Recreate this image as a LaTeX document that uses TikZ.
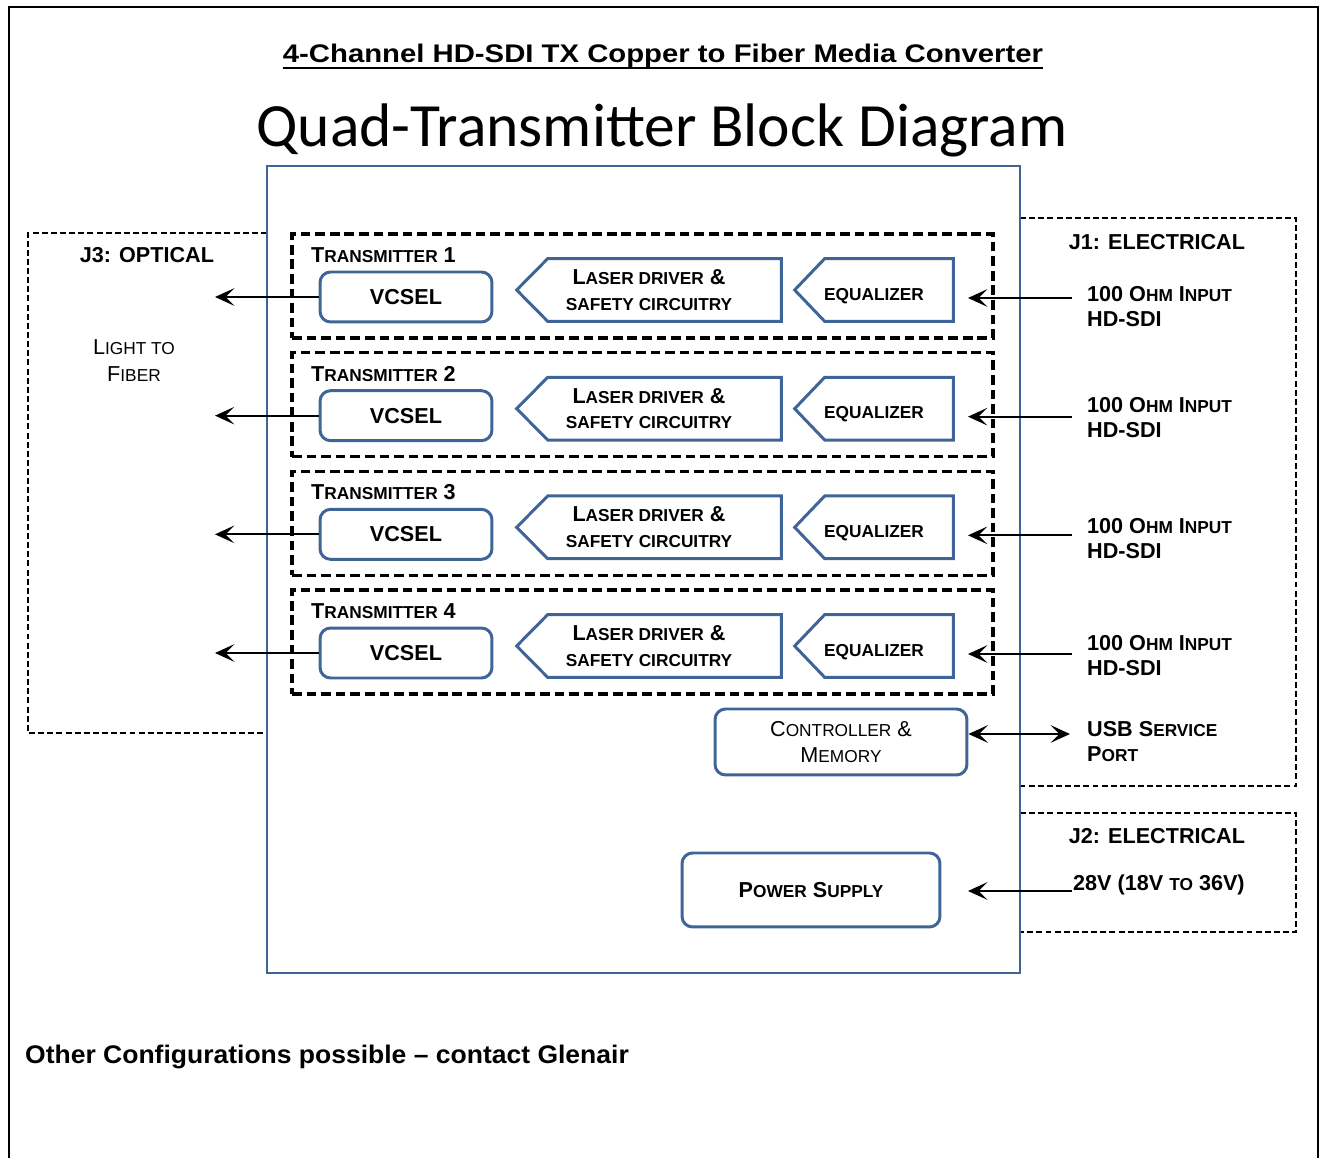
\documentclass[tikz,border=0pt]{standalone}
\usepackage{fontspec}
\setmainfont{Liberation Sans}
\newfontfamily\carlito{Carlito}
\usetikzlibrary{arrows.meta}
\definecolor{boxblue}{HTML}{3F6598}
\newcommand\nsize{\fontsize{12.3}{14.5}\selectfont}
\makeatletter
\newcommand\lc[1]{{\fontsize{\fpeval{0.8*\f@size}}{\f@baselineskip}\selectfont #1}}
\makeatother
\begin{document}
\begin{tikzpicture}[x=0.02cm,y=-0.02cm,font=\nsize,
    blk/.style={draw=boxblue,line width=1.7pt,rounded corners=6pt,align=center},
    sigline/.style={draw=boxblue,line width=1.7pt},
    sig/.style={align=center,inner sep=1pt,font=\bfseries\fontsize{12.3}{14.7}\selectfont,minimum height=1.24cm},
    grp/.style={draw,line width=2pt,dash pattern=on 5.5pt off 2.8pt},
    port/.style={draw,line width=1.1pt,dash pattern=on 3.4pt off 1.8pt},
    arr/.style={-{Stealth[length=11pt,width=10pt,inset=5pt]},line width=1.2pt},
    arrs/.style={{Stealth[length=11pt,width=10pt,inset=5pt]}-{Stealth[length=11pt,width=10pt,inset=5pt]},line width=1.2pt},
    lbl/.style={anchor=west,align=left,font=\bfseries\fontsize{12.3}{14.2}\selectfont}]
    \useasboundingbox (0,0) rectangle (1320,1158);
    \draw[line width=1.2pt] (9,1170) -- (9,7) -- (1318,7) -- (1318,1170);
    \node[anchor=base,inner sep=0pt,font=\bfseries\fontsize{14.5}{17}\selectfont] (title) at (663,63) {\scalebox{1.15}[1]{4-Channel HD-SDI TX Copper to Fiber Media Converter}};
    \draw[line width=1.5pt] ([yshift=-0.1cm]title.base west) -- ([yshift=-0.1cm]title.base east);
    \node[anchor=base,font=\carlito\fontsize{35}{40}\selectfont] (subtitle) at (662,147) {Quad-Transmitter Block Diagram};
    \draw[port] (1020,218) -| (1296,786) -- (1020,786);
    \draw[port] (1020,813) -| (1296,932) -- (1020,932);
    \draw[port] (267,233) -| (28,733) -- (267,733);
    \draw[draw=boxblue,line width=1.7pt] (267,166) rectangle (1020,973);
    \node[font=\nsize\bfseries] (j1) at (1157,242) {J1: ELECTRICAL};
    \node[font=\nsize\bfseries] (j2) at (1157,836) {J2: ELECTRICAL};
    \node[font=\nsize\bfseries] (j3) at (147,255) {J3: OPTICAL};
    \node[align=center,font=\fontsize{12.3}{15.3}\selectfont] (light) at (134,361) {L\lc{IGHT TO}\\F\lc{IBER}};
    \foreach \i/\dy in {1/9,2/1,3/3,4/2}{
        \pgfmathsetmacro\yy{(\i-1)*118.67}
        \node[grp,minimum width=14.02cm,minimum height=2.08cm] (tx\i) at (642.5,286+\yy) {};
        \node[anchor=west,font=\nsize\bfseries] (txl\i) at (305,255+\yy) {T\lc{RANSMITTER} \i};
        \node[blk,font=\nsize\bfseries,minimum width=3.44cm,minimum height=1cm] (vcsel\i) at (406,297+\yy) {VCSEL};
        \node[sig,minimum width=5.28cm] (laser\i) at (649,290+\yy) {L\lc{ASER DRIVER} \&\\\lc{SAFETY CIRCUITRY}};
        \draw[sigline] (laser\i.north east) -- (laser\i.south east) -- ([xshift=0.62cm]laser\i.south west) -- (laser\i.west) -- ([xshift=0.62cm]laser\i.north west) -- cycle;
        \node[sig,minimum width=3.16cm,text height=11.5pt,text depth=0pt] (eq\i) at (874,290+\yy) {\lc{EQUALIZER}};
        \draw[sigline] (eq\i.north east) -- (eq\i.south east) -- ([xshift=0.6cm]eq\i.south west) -- (eq\i.west) -- ([xshift=0.6cm]eq\i.north west) -- cycle;
        \coordinate (out\i) at (215,297+\yy);
        \coordinate (inA\i) at (1072,298+\yy);
        \coordinate (inB\i) at (968,298+\yy);
        \draw[arr] (vcsel\i) -- (out\i);
        \draw[arr] (inA\i) -- (inB\i);
        \node[lbl] (inl\i) at (1081,298+\dy+\yy) {100 O\lc{HM} I\lc{NPUT}\\HD-SDI};
    }
    \node[blk,font=\fontsize{12.3}{15.3}\selectfont,minimum width=5.04cm,minimum height=1.32cm] (ctrl) at (841,742) {C\lc{ONTROLLER} \&\\M\lc{EMORY}};
    \node[blk,font=\nsize\bfseries,minimum width=5.16cm,minimum height=1.48cm] (psu) at (811,890) {P\lc{OWER} S\lc{UPPLY}};
    \coordinate (usb) at (1070,734);
    \draw[arrs] (ctrl.east |- usb) -- (usb);
    \coordinate (pwrA) at (1072,891);
    \coordinate (pwrB) at (968,891);
    \draw[arr] (pwrA) -- (pwrB);
    \node[lbl] (usbl) at (1081,742) {USB S\lc{ERVICE}\\P\lc{ORT}};
    \node[lbl] (pwrl) at (1067,885) {28V (18V \lc{TO} 36V)};
    \node[anchor=base west,font=\bfseries\fontsize{14.5}{17}\selectfont] (note) at (19,1064) {\scalebox{1.04}[1]{Other Configurations possible -- contact Glenair}};
\end{tikzpicture}
\end{document}
